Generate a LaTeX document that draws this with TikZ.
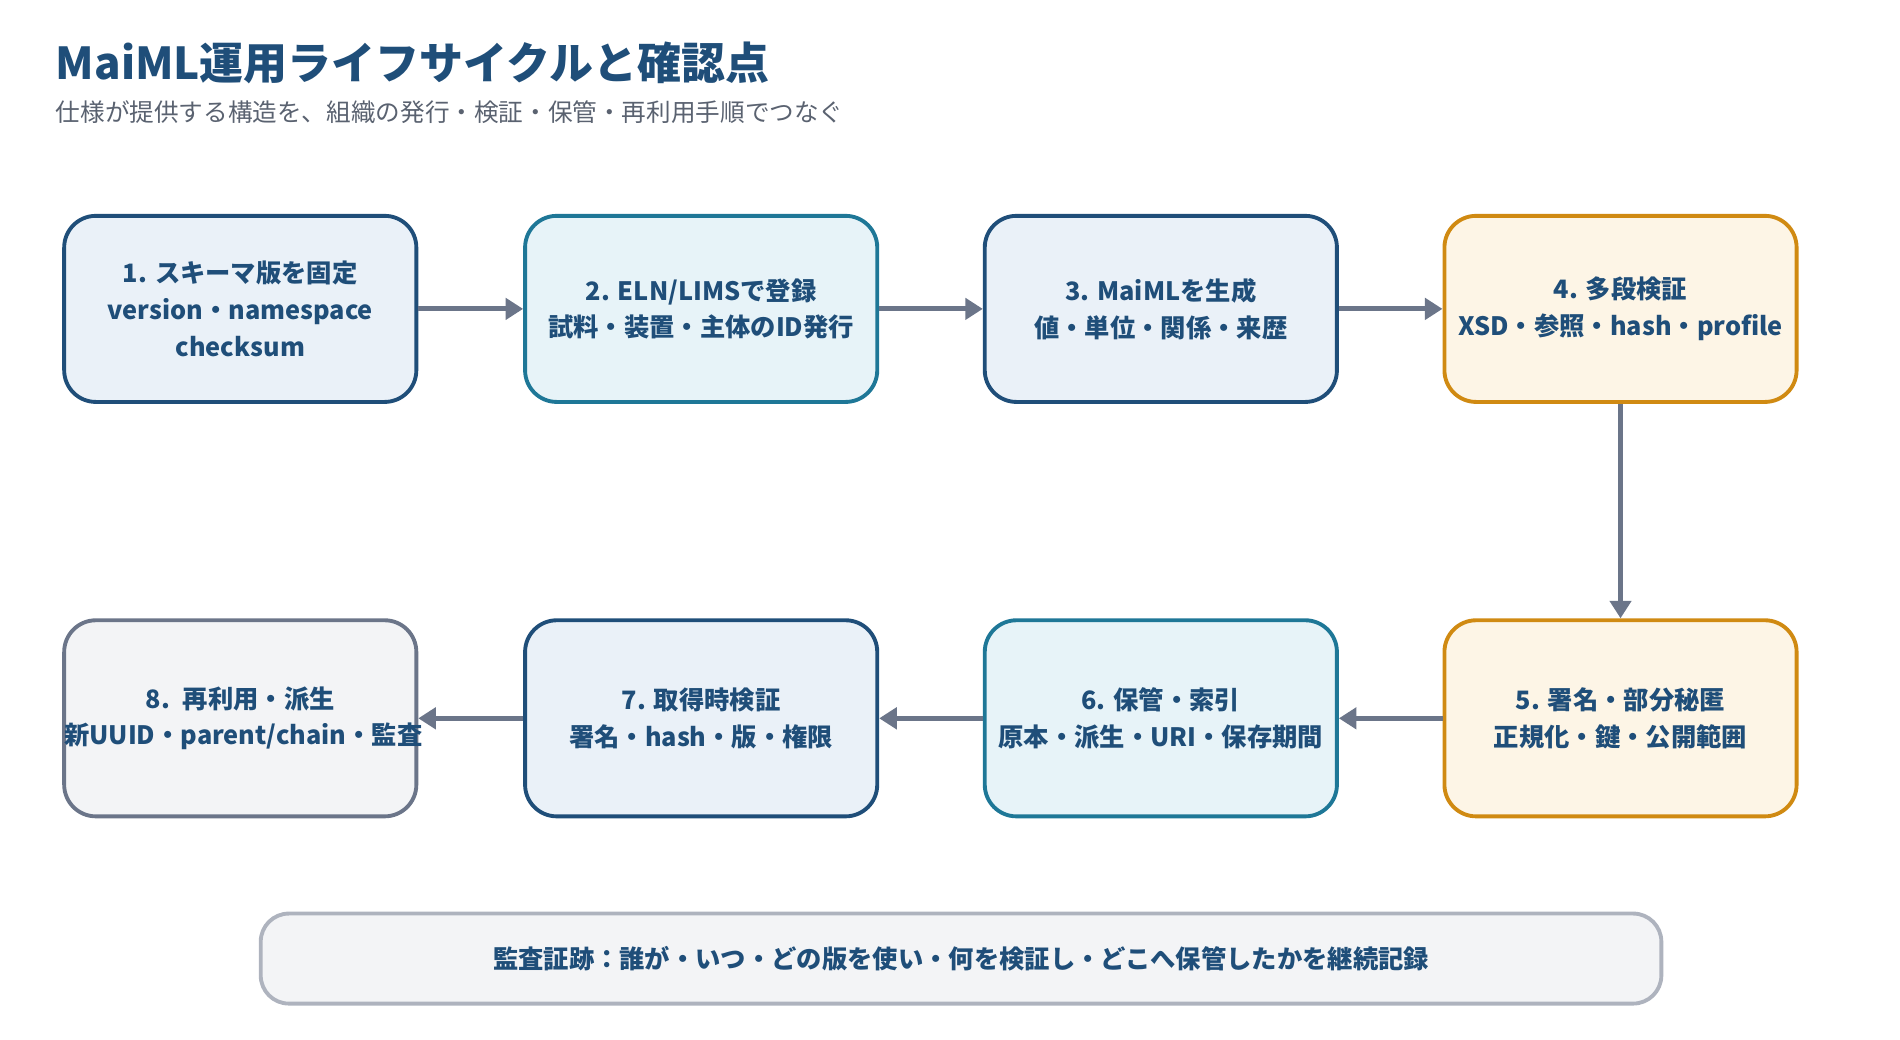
\documentclass[tikz,border=0pt]{standalone}
\usepackage{fontspec}
\setmainfont{Noto Sans CJK JP}
\usetikzlibrary{positioning,arrows.meta}
\definecolor{navy}{HTML}{1F4E79}
\definecolor{teal}{HTML}{1E7797}
\definecolor{amber}{HTML}{D08A12}
\definecolor{slate}{HTML}{6B7589}
\definecolor{navyfill}{HTML}{EAF1F8}
\definecolor{tealfill}{HTML}{E7F3F8}
\definecolor{amberfill}{HTML}{FDF5E6}
\definecolor{grayfill}{HTML}{F3F4F6}
\definecolor{subgray}{HTML}{5A6270}
\colorlet{slatefill}{grayfill}

\tikzset{
  step/.style={draw=#1, fill=#1fill, line width=1.1pt, rounded corners=9pt,
    minimum width=3.52cm, minimum height=1.86cm, align=center, inner xsep=0pt,
    font=\fontsize{7.2}{10.5}\selectfont\bfseries, text=navy},
  flow/.style={-{Triangle[length=5pt,width=6pt]}, draw=slate, line width=1.4pt}
}

\begin{document}
\begin{tikzpicture}[x=0.01226cm, y=-0.01226cm]
  \useasboundingbox (0,0) rectangle (1550,848);

  % heading
  \node[anchor=base west, inner sep=0pt, text=navy, font=\fontsize{12.5}{14}\selectfont\bfseries] (title) at (45,65) {MaiML運用ライフサイクルと確認点};
  \node[anchor=base west, inner sep=0pt, text=subgray, font=\fontsize{7}{8}\selectfont] (subtitle) at (45,99) {仕様が提供する構造を、組織の発行・検証・保管・再利用手順でつなぐ};

  % top row
  \node[step=navy] (s1) at (196,252) {1. スキーマ版を固定\\version・namespace\\checksum};
  \node[step=teal] (s2) at (572,252) {2. ELN/LIMSで登録\\試料・装置・主体のID発行};
  \node[step=navy] (s3) at (947,252) {3. MaiMLを生成\\値・単位・関係・来歴};
  \node[step=amber] (s4) at (1322,252) {4. 多段検証\\XSD・参照・hash・profile};

  % bottom row
  \node[step=amber, minimum height=1.96cm] (s5) at (1322,586) {5. 署名・部分秘匿\\正規化・鍵・公開範囲};
  \node[step=teal, minimum height=1.96cm] (s6) at (947,586) {6. 保管・索引\\原本・派生・URI・保存期間};
  \node[step=navy, minimum height=1.96cm] (s7) at (572,586) {7. 取得時検証\\署名・hash・版・権限};
  \node[step=slate, minimum height=1.96cm, text width=3.52cm] (s8) at (196,586) {8. 再利用・派生\\新UUID・parent/chain・監査};

  \draw[flow] (s1) -- (s2);
  \draw[flow] (s2) -- (s3);
  \draw[flow] (s3) -- (s4);
  \draw[flow] (s4) -- (s5);
  \draw[flow] (s5) -- (s6);
  \draw[flow] (s6) -- (s7);
  \draw[flow] (s7) -- (s8);

  % audit trail
  \node[draw=slate!55, fill=grayfill, line width=1.1pt, rounded corners=8pt,
    minimum width=14.0cm, minimum height=0.9cm, text=navy,
    font=\fontsize{7.2}{9}\selectfont\bfseries] (audit) at (784,782)
    {監査証跡：誰が・いつ・どの版を使い・何を検証し・どこへ保管したかを継続記録};
\end{tikzpicture}
\end{document}
